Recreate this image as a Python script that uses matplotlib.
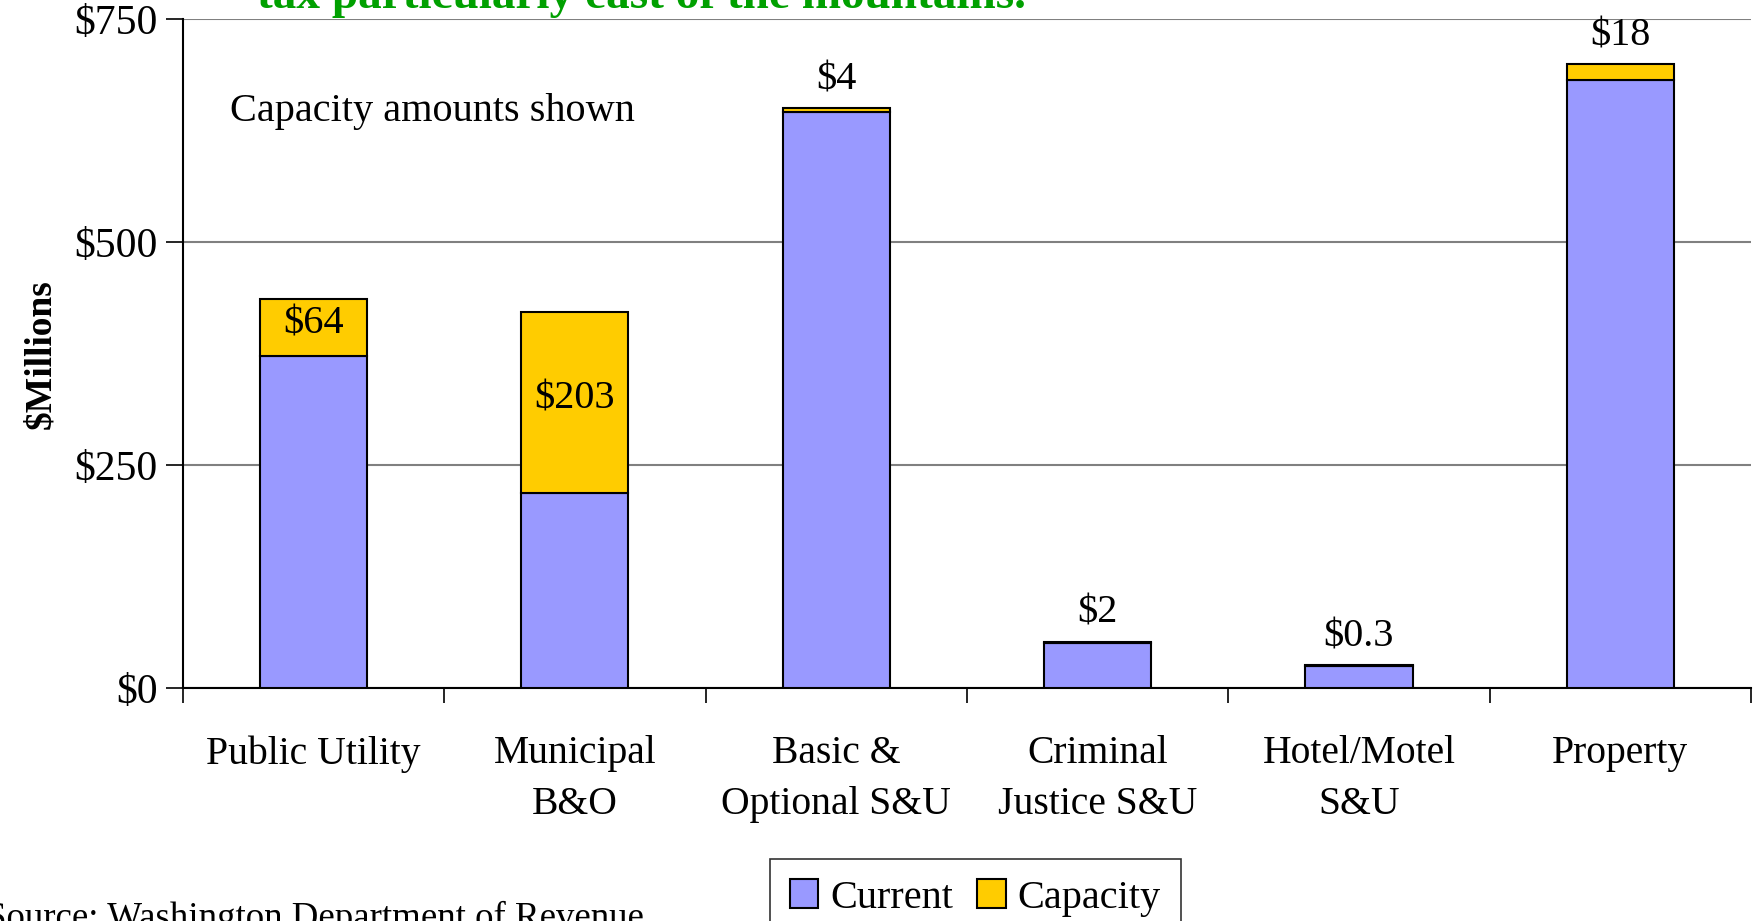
import matplotlib
matplotlib.use("Agg")
import matplotlib.pyplot as plt
import numpy as np

plt.rcParams['font.family'] = ['Liberation Serif', 'DejaVu Serif']

categories = ["Public Utility", "Municipal\nB&O", "Basic &\nOptional S&U",
              "Criminal\nJustice S&U", "Hotel/Motel\nS&U", "Property"]
current = [372, 219, 646, 50, 25, 682]
capacity = [64, 203, 4, 2, 0.3, 18]
cap_labels = ["$64", "$203", "$4", "$2", "$0.3", "$18"]
inside = [True, True, False, False, False, False]

c_cur = "#9999FF"
c_cap = "#FFCC00"

fig = plt.figure(figsize=(17.58, 9.21), dpi=100)
ax = fig.add_axes([0.104, 0.253, 0.892, 0.726])

x = np.arange(len(categories))
ax.bar(x, current, width=0.41, color=c_cur, edgecolor="black", linewidth=1.5,
       label="Current", zorder=3)
ax.bar(x, capacity, width=0.41, bottom=current, color=c_cap, edgecolor="black",
       linewidth=1.5, label="Capacity", zorder=3)

for i in range(len(categories)):
    if inside[i]:
        ax.text(x[i], current[i] + capacity[i] / 2 + 4, cap_labels[i],
                ha="center", va="center", fontsize=29, zorder=4)
    else:
        ax.annotate(cap_labels[i], (x[i], current[i] + capacity[i]),
                    xytext=(0, 7), textcoords="offset points",
                    ha="center", va="bottom", fontsize=29, zorder=4)

ax.set_xlim(-0.5, len(categories) - 0.5)
ax.set_ylim(0, 750)
ax.set_yticks([0, 250, 500, 750])
ax.set_yticklabels(["$0", "$250", "$500", "$750"])
ax.yaxis.grid(True, color="#808080", linewidth=1.5, zorder=0)
ax.set_axisbelow(True)
ax.tick_params(axis="y", labelsize=30, length=12, width=1.2, direction="out", pad=6)

ax.set_xticks(x)
ax.set_xticklabels(categories, fontsize=28.5, linespacing=1.5)
ax.tick_params(axis="x", which="major", length=0, pad=34)
ax.set_xticks(np.arange(-0.5, len(categories)), minor=True)
ax.tick_params(axis="x", which="minor", length=11, width=1.2, direction="out")

for s in ["top", "right"]:
    ax.spines[s].set_visible(False)
ax.spines["left"].set_linewidth(1.5)
ax.spines["bottom"].set_linewidth(1.5)

ax.set_ylabel("$Millions", fontsize=27, fontweight="bold", labelpad=12)

ax.text(0.03, 0.862, "Capacity amounts shown", transform=ax.transAxes,
        fontsize=29, ha="left", va="center")

fig.text(0.365, 0.991, "tax particularly east of the mountains.",
         color="#00A000", fontsize=34, fontweight="bold", ha="center", va="baseline")

fig.text(-0.008, -0.008, "Source: Washington Department of Revenue",
         fontsize=26.6, ha="left", va="baseline")

leg = fig.legend(loc="upper left", bbox_to_anchor=(0.438, 0.067), ncol=2,
                 fontsize=29, frameon=True, fancybox=False, edgecolor="black",
                 handlelength=0.7, handleheight=0.7, handletextpad=0.3,
                 columnspacing=0.6, borderpad=0.5, borderaxespad=0)
leg.get_frame().set_linewidth(1.2)

fig.savefig("out.png", dpi=100)
